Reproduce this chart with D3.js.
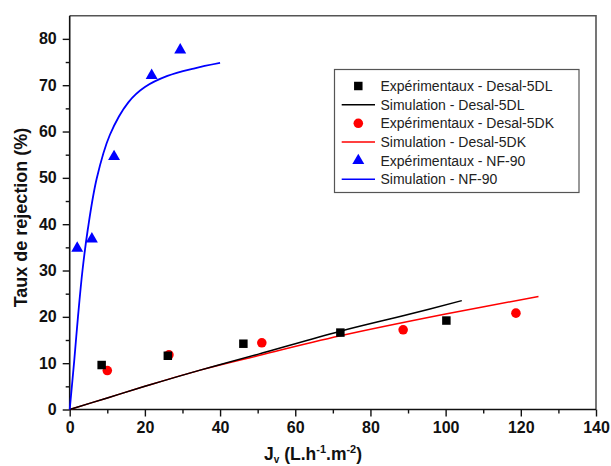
<!DOCTYPE html>
<html><head><meta charset="utf-8">
<script src="https://cdn.jsdelivr.net/npm/d3@7"></script>
<style>body{margin:0;background:#fff}svg{display:block}text{font-family:"Liberation Sans",Arial,sans-serif}</style>
</head><body><svg id="c" width="611" height="466"></svg>
<script>
// Data
const expDL = [[8.5,9.6],[26.1,11.6],[46.2,14.2],[72,16.6],[100.2,19.2]];
const expDK = [[10.0,8.4],[26.4,11.8],[51.1,14.4],[88.7,17.2],[118.7,20.8]];
const expNF = [[2.0,34.8],[5.9,36.8],[11.8,54.6],[21.8,72.1],[29.4,77.6]];
const simDL = [[0,0],[10,2.5],[20,5.0],[34.7,8.5],[50,11.9],[72,16.9],[90,20.5],[104.3,23.5]];
const simDK = [[0,0],[10,2.5],[20,5.0],[34.7,8.5],[50,11.6],[72,15.9],[100,20.6],[124.7,24.4]];
const simNF = [[0,0],[1.2,10.5],[2.2,20],[3.4,30],[4.8,38.8],[7.2,49.9],[10.7,59.3],[15.6,66.3],[20,69.6],[26,72.0],[33,73.6],[40,74.8]];
const xTicks = [0,20,40,60,80,100,120,140];
const yTicks = [0,10,20,30,40,50,60,70,80];
const legendLabels = ["Expérimentaux - Desal-5DL","Simulation - Desal-5DL","Expérimentaux - Desal-5DK","Simulation - Desal-5DK","Expérimentaux - NF-90","Simulation - NF-90"];

const svg = d3.select("#c");
const L=69.7, R=596, T=15.7, B=409.5;
const x = d3.scaleLinear().domain([0,140]).range([L,R]);
const y = d3.scaleLinear().domain([0,85]).range([B,T]);

// frame (top & right)
svg.append("path").attr("d",`M${L},${T}H${R}V${B}`).attr("fill","none").attr("stroke","#555").attr("stroke-width",1.6);

// axes
const xAxis = d3.axisBottom(x).tickValues(xTicks).tickSize(7).tickPadding(5).tickFormat(d3.format("d"));
const gx = svg.append("g").attr("transform",`translate(0,${B})`).call(xAxis);
const yAxis = d3.axisLeft(y).tickValues(yTicks).tickSize(7).tickPadding(6).tickFormat(d3.format("d"));
const gy = svg.append("g").attr("transform",`translate(${L},0)`).call(yAxis);
// minor ticks
const gxm = svg.append("g").attr("transform",`translate(0,${B})`).call(d3.axisBottom(x).tickValues(d3.range(10,140,20)).tickSize(4).tickFormat(""));
const gym = svg.append("g").attr("transform",`translate(${L},0)`).call(d3.axisLeft(y).tickValues(d3.range(5,85,10)).tickSize(4).tickFormat(""));
[gx,gy,gxm,gym].forEach(g=>{
  g.select(".domain").attr("stroke","#111").attr("stroke-width",1.6);
  g.selectAll(".tick line").attr("stroke","#111").attr("stroke-width",1.4);
  g.selectAll("text").attr("font-size",16).attr("font-weight","bold").attr("fill","#111").attr("font-family","'Liberation Sans',Arial,sans-serif");
});
gy.select(".domain").attr("d",`M0,${B}V${T}`);
gx.select(".domain").attr("d",`M${L},0H${R}`);
gxm.select(".domain").remove(); gym.select(".domain").remove();

// axis titles
svg.append("text").attr("transform","translate(26.5,217.5) rotate(-90)").attr("text-anchor","middle")
  .attr("font-size",18).attr("font-weight","bold").attr("fill","#111").text("Taux de rejection (%)");
const xt = svg.append("text").attr("x",264).attr("y",460).attr("font-size",17.5).attr("font-weight","bold").attr("fill","#111");
xt.append("tspan").text("J");
xt.append("tspan").attr("font-size",10).attr("dy",3).text("v");
xt.append("tspan").attr("dy",-3).text(" (L.h");
xt.append("tspan").attr("font-size",11).attr("dy",-7).text("-1");
xt.append("tspan").attr("dy",7).text(".m");
xt.append("tspan").attr("font-size",11).attr("dy",-7).text("-2");
xt.append("tspan").attr("dy",7).text(")");

// lines
const line = d3.line().x(d=>x(d[0])).y(d=>y(d[1])).curve(d3.curveCatmullRom.alpha(0.5));
svg.append("path").datum(simDK).attr("d",line).attr("fill","none").attr("stroke","#ff0000").attr("stroke-width",1.5);
svg.append("path").datum(simDL).attr("d",line).attr("fill","none").attr("stroke","#000").attr("stroke-width",1.5);
svg.append("path").datum(simNF).attr("d",line).attr("fill","none").attr("stroke","#0000ff").attr("stroke-width",1.8);

// markers
const sq = d3.symbol().type(d3.symbolSquare).size(72);
const ci = d3.symbol().type(d3.symbolCircle).size(72);
const tr = d3.symbol().type(d3.symbolTriangle).size(62);
svg.append("g").selectAll("path").data(expDK).join("path").attr("d",ci).attr("fill","#ff0000")
  .attr("transform",d=>`translate(${x(d[0])},${y(d[1])})`);
svg.append("g").selectAll("path").data(expDL).join("path").attr("d",sq).attr("fill","#000")
  .attr("transform",d=>`translate(${x(d[0])},${y(d[1])})`);
svg.append("g").selectAll("path").data(expNF).join("path").attr("d",tr).attr("fill","#0000ff")
  .attr("transform",d=>`translate(${x(d[0])},${y(d[1])})`);

// legend
const lg = svg.append("g");
lg.append("rect").attr("x",334.5).attr("y",69.5).attr("width",244.5).attr("height",123).attr("fill","#fff").attr("stroke","#555").attr("stroke-width",1.2);
const rowY = i=>86+i*18.65;
const kinds = [["sym",sq,"#000"],["line",null,"#000"],["sym",ci,"#ff0000"],["line",null,"#ff0000"],["sym",tr,"#0000ff"],["line",null,"#0000ff"]];
kinds.forEach((k,i)=>{
  if(k[0]==="sym") lg.append("path").attr("d",k[1]).attr("fill",k[2]).attr("transform",`translate(358.3,${rowY(i)})`);
  else lg.append("line").attr("x1",341.7).attr("x2",375).attr("y1",rowY(i)).attr("y2",rowY(i)).attr("stroke",k[2]).attr("stroke-width",1.5);
  lg.append("text").attr("x",380.5).attr("y",rowY(i)).attr("dy","0.36em").attr("font-size",14).attr("fill","#222").text(legendLabels[i]);
});
</script></body></html>
